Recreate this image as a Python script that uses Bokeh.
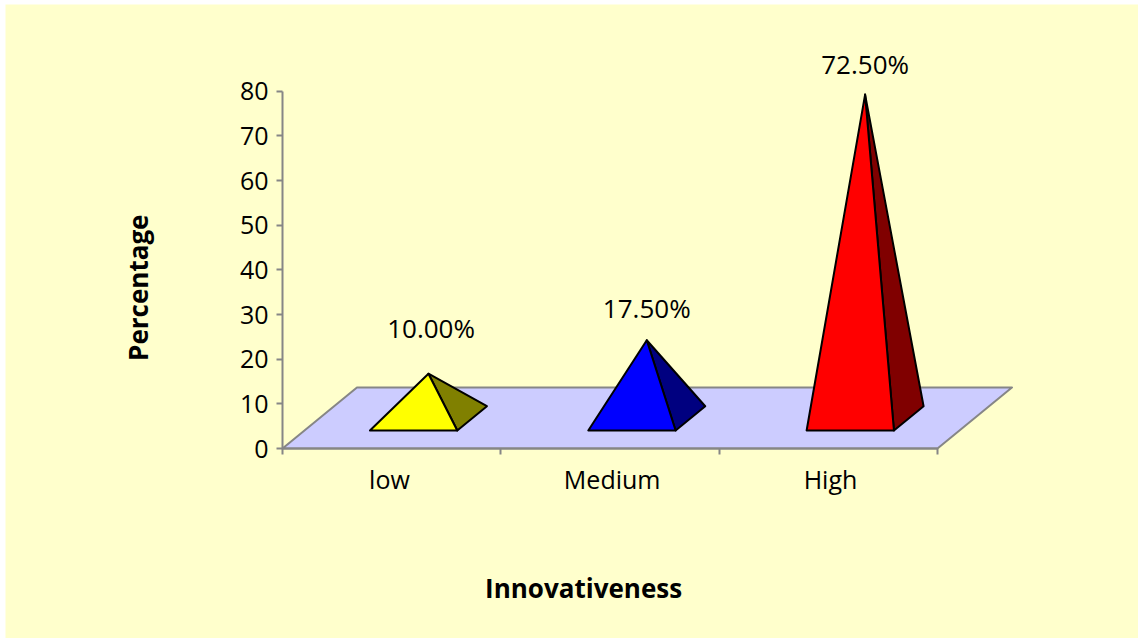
import math

from bokeh.embed import file_html
from bokeh.models import ColumnDataSource, FixedTicker, LinearAxis, Range1d
from bokeh.core.properties import value
from bokeh.plotting import figure
from bokeh.resources import INLINE

# Chart data
categories = ["low", "Medium", "High"]
percentages = [10.0, 17.5, 72.5]
front_colors = ["#FFFF00", "#0000FF", "#FF0000"]
side_colors = ["#808000", "#000080", "#800000"]
y_ticks = [0, 10, 20, 30, 40, 50, 60, 70, 80]
x_title = "Innovativeness"
y_title = "Percentage"

# Text placement around the marks
label_lift = [10.2, 7.3, 6.9]
label_shift = [0.012, 0.0, 0.0]
category_label_ticks = [0.49, 1.51, 2.51]

BACKGROUND = "#FFFFCC"
FLOOR = "#CCCCFF"
AXIS_GRAY = "#868686"
FONT = "Open Sans"

# Oblique projection: one unit of depth moves a point right and up
DEPTH_X = 0.341
DEPTH_Y = 13.66
BASE_NEAR = 0.295
BASE_FAR = 0.693
BASE_MID = (BASE_NEAR + BASE_FAR) / 2
HALF_WIDTH = 0.2


def project(x, depth, height=0.0):
    return x + depth * DEPTH_X, height + depth * DEPTH_Y


n = len(categories)
p = figure(
    width=1133, height=634, margin=(4, 0, 0, 5),
    x_range=Range1d(-1.2687, 3.9207), y_range=Range1d(-42.54, 99.42),
    output_backend="svg", toolbar_location=None,
    x_axis_location=None, y_axis_location=None,
    min_border_left=0, min_border_right=0, min_border_top=0, min_border_bottom=0,
    background_fill_color=BACKGROUND, border_fill_color=BACKGROUND,
    outline_line_color=None,
)
p.grid.visible = False

# Value axis, pinned to the left edge of the floor
y_axis = LinearAxis(
    ticker=FixedTicker(ticks=y_ticks), bounds=(0, 80), fixed_location=0,
    axis_line_color=AXIS_GRAY, axis_line_width=2,
    major_tick_line_color=AXIS_GRAY, major_tick_line_width=2,
    major_tick_in=0, major_tick_out=6, minor_tick_line_color=None,
    major_label_text_font=FONT, major_label_text_font_size="25px",
    major_label_text_color="#000000", major_label_standoff=8,
)
p.add_layout(y_axis, "left")

# Category axis: ticks mark the boundaries, labels sit between them
x_axis = LinearAxis(
    ticker=FixedTicker(ticks=category_label_ticks, minor_ticks=list(range(n + 1))),
    bounds=(0, n), fixed_location=0,
    major_label_overrides=dict(zip(category_label_ticks, categories)),
    axis_line_color=AXIS_GRAY, axis_line_width=2,
    major_tick_line_color=None, major_tick_in=0, major_tick_out=0,
    minor_tick_line_color=AXIS_GRAY, minor_tick_line_width=2,
    minor_tick_in=0, minor_tick_out=6,
    major_label_text_font=FONT, major_label_text_font_size="25px",
    major_label_text_color="#000000", major_label_standoff=7,
)
p.add_layout(x_axis, "below")

# Floor of the 3D plot area
corners = [project(0, 0), project(n, 0), project(n, 1), project(0, 1)]
p.patch(
    [c[0] for c in corners], [c[1] for c in corners],
    fill_color=FLOOR, line_color=AXIS_GRAY, line_width=2, line_join="round",
)

# Pyramids: front face and right side face, rising from the middle of the base
front_xs, front_ys, side_xs, side_ys = [], [], [], []
label_x, label_y, label_text = [], [], []
for i, v in enumerate(percentages):
    centre = i + 0.5
    left_near = project(centre - HALF_WIDTH, BASE_NEAR)
    right_near = project(centre + HALF_WIDTH, BASE_NEAR)
    right_far = project(centre + HALF_WIDTH, BASE_FAR)
    apex = project(centre, BASE_MID, v)
    front_xs.append([left_near[0], right_near[0], apex[0]])
    front_ys.append([left_near[1], right_near[1], apex[1]])
    side_xs.append([right_near[0], right_far[0], apex[0]])
    side_ys.append([right_near[1], right_far[1], apex[1]])
    label_x.append(apex[0] + label_shift[i])
    label_y.append(apex[1] + label_lift[i])
    label_text.append(f"{v:.2f}%")

side_source = ColumnDataSource(dict(xs=side_xs, ys=side_ys, color=side_colors))
front_source = ColumnDataSource(dict(xs=front_xs, ys=front_ys, color=front_colors))
p.patches("xs", "ys", source=side_source, fill_color="color",
          line_color="#000000", line_width=2, line_join="round")
p.patches("xs", "ys", source=front_source, fill_color="color",
          line_color="#000000", line_width=2, line_join="round")

# Value labels above the apexes
p.text(
    label_x, label_y, text=label_text,
    text_font=value(FONT), text_font_size="26px", text_color="#000000",
    text_align="center", text_baseline="middle",
)

# Axis titles
p.text(
    [1.379], [-31.3], text=[x_title],
    text_font=value(FONT), text_font_size="26px", text_font_style="bold",
    text_color="#000000", text_align="center", text_baseline="middle",
)
p.text(
    [-0.66], [36.0], text=[y_title], angle=math.pi / 2,
    text_font=value(FONT), text_font_size="26px", text_font_style="bold",
    text_color="#000000", text_align="center", text_baseline="middle",
)

open("out.html", "w").write(file_html(p, INLINE))
